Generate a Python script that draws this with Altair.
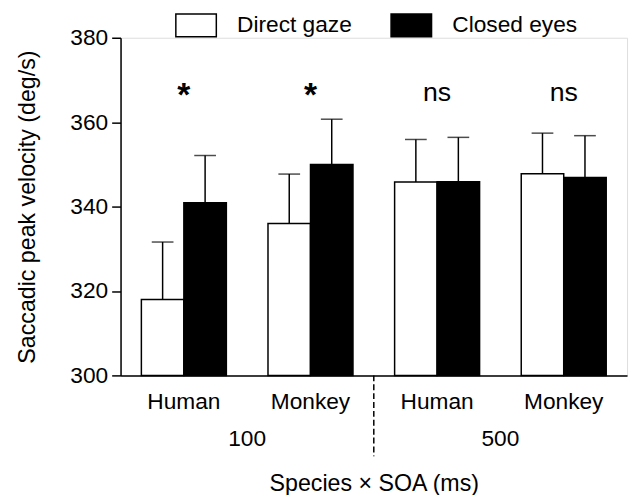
import altair as alt
import pandas as pd

species = ["Human", "Monkey", "Human", "Monkey"]
soa = ["100", "100", "500", "500"]
conditions = ["Direct gaze", "Closed eyes"]
direct_mean = [318.0, 336.0, 345.8, 347.8]
direct_upper = [331.6, 347.7, 355.9, 357.4]
closed_mean = [340.9, 350.0, 345.9, 346.9]
closed_upper = [352.1, 360.7, 356.4, 356.8]
significance = ["*", "*", "ns", "ns"]
y_ticks = [300, 320, 340, 360, 380]

groups = [f"{s}|{t}" for s, t in zip(species, soa)]

rows = []
for i, g in enumerate(groups):
    rows.append(dict(group=g, condition=conditions[0], mean=direct_mean[i], upper=direct_upper[i]))
    rows.append(dict(group=g, condition=conditions[1], mean=closed_mean[i], upper=closed_upper[i]))
df = pd.DataFrame(rows)
sig_df = pd.DataFrame(dict(group=groups, sig=significance))
soa_df = pd.DataFrame(dict(group=[groups[0], groups[2]], soa=[soa[0], soa[2]]))
sep_df = pd.DataFrame(dict(group=[groups[1]]))

FONT = "Liberation Sans"
W, H = 513, 342
FS = 23

x_scale = alt.Scale(domain=groups, paddingInner=0, paddingOuter=0)
xoff_scale = alt.Scale(domain=conditions, paddingInner=0, paddingOuter=0.49)
y_scale = alt.Scale(domain=[300, 380], zero=False, nice=False)

x_axis = alt.Axis(
    title="Species × SOA (ms)",
    labelExpr="split(datum.value, '|')[0]",
    ticks=False, tickSize=0, labelAngle=0, labelPadding=16,
    labelFontSize=FS, titleFontSize=23.5, titlePadding=59,
    domainColor="black", domainWidth=1.5,
    labelColor="black", titleColor="black", titleFontWeight="normal",
    labelFont=FONT, titleFont=FONT,
)
y_axis = alt.Axis(
    title="Saccadic peak velocity (deg/s)", values=y_ticks, grid=False,
    tickSize=9, tickWidth=1.5, tickColor="black", labelPadding=4,
    domainColor="black", domainWidth=1.5,
    labelFontSize=FS, titleFontSize=23.5, titlePadding=31,
    labelColor="black", titleColor="black", titleFontWeight="normal",
    labelFont=FONT, titleFont=FONT,
)


def xenc(**kw):
    return alt.X("group:N", scale=x_scale, sort=groups, axis=x_axis, **kw)


xoff = alt.XOffset("condition:N", scale=xoff_scale, sort=conditions)

bars = alt.Chart(df).mark_bar(stroke="black", strokeWidth=1.5).encode(
    x=xenc(),
    xOffset=xoff,
    y=alt.Y("mean:Q", scale=y_scale, axis=y_axis),
    y2=alt.datum(300),
    fill=alt.Fill(
        "condition:N",
        scale=alt.Scale(domain=conditions, range=["white", "black"]),
        sort=conditions,
        legend=alt.Legend(
            title=None, orient="none", legendX=55, legendY=-34,
            direction="horizontal", symbolType="M-1,-0.56H1V0.56H-1Z",
            symbolSize=1681, symbolStrokeColor="black", symbolStrokeWidth=1.5,
            labelFontSize=FS, labelFont=FONT, labelColor="black",
            labelOffset=20, columnPadding=36, padding=0, symbolOpacity=1,
        ),
    ),
)

err = alt.Chart(df).mark_rule(color="black", strokeWidth=1.5).encode(
    x=xenc(), xOffset=xoff,
    y=alt.Y("mean:Q", scale=y_scale, axis=y_axis), y2="upper:Q",
)
caps = alt.Chart(df).mark_tick(color="black", thickness=1.5, size=22).encode(
    x=xenc(), xOffset=xoff,
    y=alt.Y("upper:Q", scale=y_scale, axis=y_axis),
)

star = alt.Chart(sig_df).transform_filter("datum.sig == '*'").mark_text(
    font=FONT, fontSize=34, fontWeight="bold", baseline="alphabetic", color="black"
).encode(x=xenc(), y=alt.datum(363.8), text="sig:N")
ns = alt.Chart(sig_df).transform_filter("datum.sig == 'ns'").mark_text(
    font=FONT, fontSize=27, baseline="alphabetic", color="black"
).encode(x=xenc(), y=alt.datum(365.0), text="sig:N")

soa_text = alt.Chart(soa_df).mark_text(
    font=FONT, fontSize=FS, baseline="alphabetic", color="black"
).encode(x=xenc(bandPosition=1), y=alt.value(H + 71), text="soa:N")

sep = alt.Chart(sep_df).mark_rule(color="black", strokeWidth=1.5, strokeDash=[6, 3]).encode(
    x=xenc(bandPosition=1), y=alt.value(H), y2=alt.value(H + 82)
)

chart = alt.layer(bars, err, caps, star, ns, soa_text, sep).properties(
    width=W, height=H,
    autosize=alt.AutoSizeParams(type="none"),
    padding={"left": 114, "top": 27, "right": 3, "bottom": 118},
    background="white",
).configure_view(stroke=None).configure(font=FONT)

chart.save("out.html", embed_options={"renderer": "svg", "actions": False})
